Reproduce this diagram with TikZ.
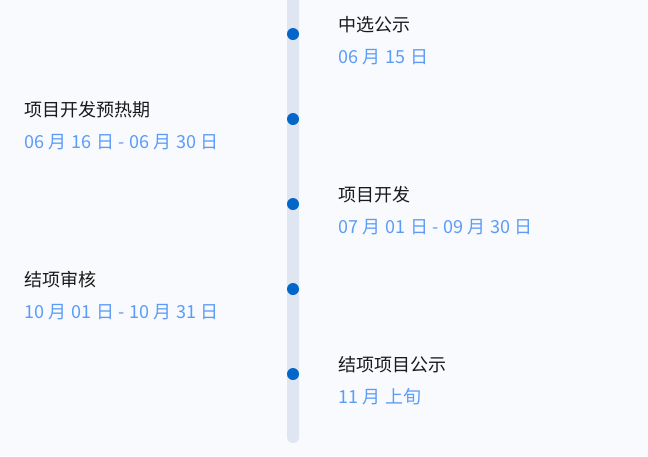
\documentclass[tikz,border=0pt]{standalone}
\usepackage{fontspec}
\setmainfont{Noto Sans CJK SC}
\definecolor{bg}{HTML}{F8FAFE}
\definecolor{bar}{HTML}{DFE6F2}
\definecolor{dotc}{HTML}{0366C8}
\definecolor{datec}{HTML}{5C9CF8}
\definecolor{titlec}{HTML}{1A1A1A}
\begin{document}
\begin{tikzpicture}[x=1pt,y=-1pt,
  ttl/.style={font=\fontsize{18}{21}\selectfont, text=titlec, inner sep=0pt},
  dat/.style={font=\fontsize{18}{21}\selectfont\addfontfeatures{LetterSpace=2}, text=datec, inner sep=0pt},
  dotn/.style={circle, fill=dotc, minimum size=12pt, inner sep=0pt}]
\fill[bg] (0,0) rectangle (648,456);
\useasboundingbox (0,0) rectangle (648,456);
\fill[bar, rounded corners=6pt] (287,-12) rectangle (299,443);
\node[dotn] (d1) at (293,34) {};
\node[dotn] (d2) at (293,119) {};
\node[dotn] (d3) at (293,204) {};
\node[dotn] (d4) at (293,289) {};
\node[dotn] (d5) at (293,374) {};
\node[ttl, anchor=west] (t1) at (338,25) {中选公示};
\node[dat, anchor=west] (s1) at (338,57) {06 月 15 日};
\node[ttl, anchor=west] (t2) at (24,110) {项目开发预热期};
\node[dat, anchor=west] (s2) at (24,142) {06 月 16 日 - 06 月 30 日};
\node[ttl, anchor=west] (t3) at (338,195) {项目开发};
\node[dat, anchor=west] (s3) at (338,227) {07 月 01 日 - 09 月 30 日};
\node[ttl, anchor=west] (t4) at (24,280) {结项审核};
\node[dat, anchor=west] (s4) at (24,312) {10 月 01 日 - 10 月 31 日};
\node[ttl, anchor=west] (t5) at (338,365) {结项项目公示};
\node[dat, anchor=west] (s5) at (338,397) {11 月 上旬};
\end{tikzpicture}
\end{document}
